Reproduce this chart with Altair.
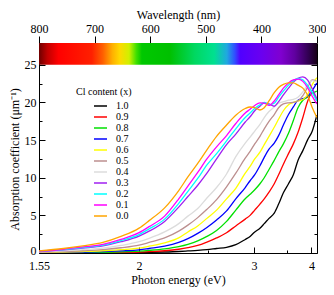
import altair as alt
import pandas as pd

HC = 1240.0  # eV*nm, converts photon energy to wavelength

# photon energies (eV) at which the curves were read
energy_eV = [1.55, 1.64, 1.72, 1.81, 1.90, 2.00, 2.06, 2.16, 2.26, 2.33, 2.41, 2.49,
             2.58, 2.68, 2.78, 2.89, 2.95, 3.01, 3.08, 3.14, 3.21, 3.29, 3.36, 3.44,
             3.53, 3.62, 3.71, 3.81, 3.91, 4.02, 4.13]

cl_labels = ["1.0", "0.9", "0.8", "0.7", "0.6", "0.5", "0.4", "0.3", "0.2", "0.1", "0.0"]
cl_colors = ["#000000", "#ff0000", "#00e000", "#0000ff", "#ffff00", "#bc8f8f",
             "#dcdcdc", "#a020f0", "#00ffff", "#ff00ff", "#ffa500"]

a_10 = [0.01, 0.01, 0.02, 0.03, 0.04, 0.06, 0.08, 0.13, 0.2, 0.27, 0.35, 0.45, 0.6, 0.75, 1.1, 1.8,
        2.2, 2.8, 3.3, 3.9, 4.6, 5.3, 6.5, 8.0, 9.2, 10.4, 12.3, 13.6, 15.0, 16.2, 18.3]
a_09 = [0.02, 0.03, 0.04, 0.06, 0.08, 0.12, 0.17, 0.3, 0.5, 0.7, 1.0, 1.45, 2.0, 2.7, 3.6, 4.5,
        5.0, 5.7, 6.5, 7.2, 8.1, 9.2, 10.4, 11.8, 13.2, 14.5, 16.0, 18.0, 20.1, 21.3, 20.2]
a_08 = [0.03, 0.05, 0.07, 0.1, 0.15, 0.25, 0.35, 0.55, 0.85, 1.15, 1.6, 2.2, 3.0, 4.2, 5.7, 7.2,
        7.8, 8.4, 9.2, 10.0, 11.1, 12.3, 13.4, 14.5, 15.9, 17.6, 19.3, 20.3, 20.7, 21.2, 21.5]
a_07 = [0.05, 0.08, 0.12, 0.18, 0.28, 0.42, 0.6, 0.9, 1.4, 1.9, 2.6, 3.4, 4.4, 5.6, 7.2, 8.7,
        9.6, 10.4, 11.6, 12.7, 13.8, 14.6, 15.6, 17.0, 18.4, 19.4, 20.3, 20.5, 20.8, 21.6, 22.6]
a_06 = [0.07, 0.13, 0.2, 0.3, 0.45, 0.65, 0.9, 1.35, 2.0, 2.8, 3.6, 4.6, 5.7, 7.2, 8.6, 10.6,
        11.5, 12.5, 13.4, 14.4, 15.5, 16.7, 17.8, 18.9, 19.7, 20.0, 20.2, 20.4, 21.0, 22.4, 23.3]
a_05 = [0.1, 0.2, 0.3, 0.45, 0.7, 1.05, 1.4, 2.0, 2.9, 3.7, 4.7, 5.8, 7.1, 8.8, 10.6, 12.6,
        13.5, 14.5, 15.5, 16.5, 17.5, 18.4, 19.3, 19.8, 19.95, 20.0, 20.2, 20.9, 22.0, 23.0, 22.8]
a_04 = [0.15, 0.3, 0.45, 0.65, 1.0, 1.5, 1.95, 2.8, 3.9, 4.9, 5.9, 7.3, 8.7, 10.5, 12.8, 14.6,
        15.4, 16.2, 17.1, 18.0, 18.8, 19.4, 19.9, 20.1, 20.3, 20.4, 20.7, 21.4, 22.3, 22.9, 22.7]
a_03 = [0.2, 0.42, 0.66, 0.95, 1.5, 2.25, 2.9, 4.2, 6.1, 7.5, 9.0, 10.6, 12.5, 14.4, 15.8, 17.4,
        18.1, 18.9, 19.5, 19.95, 19.8, 19.5, 20.1, 21.0, 21.9, 22.7, 23.2, 23.4, 23.0, 21.8, 20.5]
a_02 = [0.22, 0.46, 0.72, 1.05, 1.65, 2.45, 3.2, 4.5, 6.6, 8.2, 9.9, 11.7, 13.2, 14.9, 16.5, 18.0,
        18.6, 19.2, 19.7, 20.0, 19.7, 19.9, 20.7, 21.5, 22.3, 22.9, 23.2, 23.0, 22.3, 21.3, 20.2]
a_01 = [0.24, 0.5, 0.8, 1.15, 1.8, 2.7, 3.5, 4.9, 7.2, 8.9, 10.7, 12.5, 14.1, 15.6, 17.2, 18.6,
        19.1, 19.6, 19.95, 19.9, 19.6, 20.2, 21.0, 21.9, 22.6, 23.0, 23.1, 22.8, 22.0, 20.8, 19.8]
a_00 = [0.28, 0.6, 0.95, 1.4, 2.2, 3.3, 4.3, 6.0, 8.3, 10.1, 11.9, 13.7, 15.5, 17.0, 18.3, 19.2,
        19.4, 19.3, 19.0, 19.3, 20.2, 21.3, 22.0, 22.4, 22.6, 22.6, 22.3, 21.9, 21.0, 19.3, 18.0]

series = [a_10, a_09, a_08, a_07, a_06, a_05, a_04, a_03, a_02, a_01, a_00]

# axis ticks
y_ticks = [0, 2.5, 5, 7.5, 10, 12.5, 15, 17.5, 20, 22.5, 25]
wl_ticks = [800, 700, 600, 500, 400, 300]
ev_ticks = [1.55, 2, 2.5, 3, 3.5, 4]
ev_labels = ["1.55", "2", "", "3", "", "4"]
y_top_value = 25
y_max = 27.9  # top of colour bar

# visible spectrum colour bar
spectrum_nm = [800, 785, 765, 705, 685, 668, 655, 638, 625, 615, 565, 520, 485, 462, 448,
               438, 400, 365, 340, 315, 300]
spectrum_col = ["#6e0000", "#c00000", "#ff0000", "#ff2000", "#ff6000", "#ffb000", "#ffd800",
                "#d0f000", "#40e000", "#00c800", "#00c000", "#00d860", "#00e090", "#20a8e0",
                "#3050ff", "#5000ff", "#6a00f0", "#8000d0", "#6000a0", "#300050", "#180018"]

rows = []
for lab, vals in zip(cl_labels, series):
    assert len(vals) == len(energy_eV)
    for e, v in zip(energy_eV, vals):
        rows.append({"lam": HC / e, "alpha": v, "x": lab})
df = pd.DataFrame(rows)

wl_max, wl_min = max(wl_ticks), min(wl_ticks)
bar_df = pd.DataFrame([{"l0": wl_max, "l1": wl_min, "a0": y_top_value, "a1": y_max}])

stops = [alt.GradientStop(color=c, offset=(wl_max - l) / (wl_max - wl_min))
         for l, c in zip(spectrum_nm, spectrum_col)]
grad = alt.LinearGradient(gradient="linear", stops=stops, x1=0, x2=1, y1=0, y2=0)

FONT = "Liberation Serif, Times New Roman, Times, serif"
xscale = alt.Scale(domain=[wl_min, wl_max], reverse=True, nice=False, zero=False)
yscale = alt.Scale(domain=[0, y_max], nice=False, zero=True)

ev_pos = [HC / e for e in ev_ticks]
label_expr = ""
major_test = []
for p, lab in zip(ev_pos, ev_labels):
    label_expr += f"abs(datum.value - {p:.3f}) < 0.5 ? '{lab}' : "
    if lab:
        major_test.append(f"abs(datum.value - {p:.3f}) < 0.5")
label_expr += "''"
x_tick_expr = "(" + " || ".join(major_test) + ") ? -6 : -3"
y_tick_expr = "datum.value % 5 == 0 ? -6 : -3"

frac_mid = 1 - (y_top_value / 2) / y_max

common = dict(labelFont=FONT, titleFont=FONT, labelFontSize=12, titleFontSize=12,
              titleFontWeight="normal", labelColor="black", titleColor="black",
              domainColor="black", tickColor="black", grid=False)

bottom_axis = alt.Axis(orient="bottom", values=ev_pos, labelExpr=label_expr,
                       tickSize={"expr": x_tick_expr}, labelPadding=13, labelFlush=False,
                       labelOverlap=False, title="Photon energy (eV)", titlePadding=0,
                       **common)
left_axis = alt.Axis(orient="left", values=y_ticks,
                     labelExpr="datum.value % 5 == 0 ? format(datum.value, 'd') : ''",
                     labelOffset={"expr": "datum.value == 0 ? -3 : 0"},
                     tickSize={"expr": y_tick_expr}, labelPadding=9, labelOverlap=False,
                     title="Absorption coefficient (μm⁻¹)",
                     titleY={"expr": f"height * {frac_mid:.4f}"}, titleX=-18,
                     titleBaseline="bottom", titleAngle=270, **common)
top_axis = alt.Axis(orient="top", values=wl_ticks, format="d", tickSize=7, labelPadding=1,
                    labelFlush=False, domain=False, title="Wavelength (nm)", titlePadding=1,
                    **common)
right_axis = alt.Axis(orient="right", values=y_ticks, labels=False,
                      tickSize={"expr": y_tick_expr}, title=None, **common)

lines = alt.Chart(df).mark_line(strokeWidth=1.3, interpolate="monotone", clip=True).encode(
    x=alt.X("lam:Q", scale=xscale, axis=bottom_axis),
    y=alt.Y("alpha:Q", scale=yscale, axis=left_axis),
    color=alt.Color("x:N", scale=alt.Scale(domain=cl_labels, range=cl_colors),
                    legend=alt.Legend(title="Cl content (x)", orient="none", legendX=37,
                                      legendY=44, symbolType="stroke", symbolSize=169,
                                      symbolStrokeWidth=1.5, symbolOffset=17, labelOffset=8,
                                      clipHeight=9.8, rowPadding=0, titleFontSize=10,
                                      labelFontSize=10, titlePadding=4,
                                      titleFont=FONT, labelFont=FONT,
                                      titleColor="black", labelColor="black",
                                      titleFontWeight="normal")),
)

bar = alt.Chart(bar_df).mark_rect(color=grad).encode(
    x=alt.X("l0:Q", scale=xscale, axis=top_axis),
    x2="l1:Q",
    y=alt.Y("a0:Q", scale=yscale, axis=right_axis),
    y2="a1:Q",
)

chart = (
    alt.layer(lines, bar)
    .resolve_axis(x="independent", y="independent")
    .properties(width=318, height=279,
                padding={"left": 0, "top": 0, "right": 0, "bottom": 2},
                autosize=alt.AutoSizeParams(type="fit", contains="padding"))
    .configure(font=FONT)
    .configure_view(stroke=None)
)

chart.save("out.html", embed_options={"renderer": "svg", "actions": False})
